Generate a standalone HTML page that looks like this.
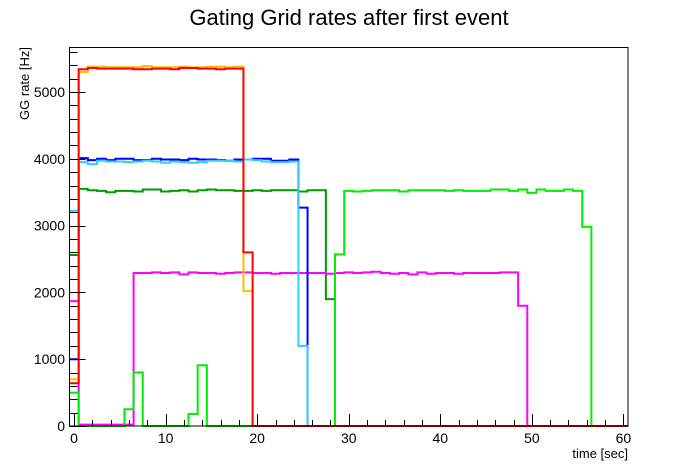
<!DOCTYPE html>
<html><head><meta charset="utf-8"><style>
html,body{margin:0;padding:0;background:#fff;}
svg{display:block;font-family:"Liberation Sans",sans-serif;}
</style></head><body>
<svg id="chart" width="698" height="474" viewBox="0 0 698 474">
<rect x="0" y="0" width="698" height="474" fill="#fff"/>
<text x="349" y="25" font-size="22" text-anchor="middle">Gating Grid rates after first event</text>
<g id="series"></g>
<rect x="69.5" y="47.5" width="558.5" height="378.5" fill="none" stroke="#000" stroke-width="1"/>
<g id="axes"></g>
<text x="628" y="458" font-size="13" text-anchor="end">time [sec]</text>
<text transform="translate(29,47) rotate(-90)" font-size="13" text-anchor="end">GG rate [Hz]</text>
</svg>
<script>
const xTicks = [0,10,20,30,40,50,60];
const yTicks = [0,1000,2000,3000,4000,5000];
const seriesNames = ["dark-green","magenta","lime","blue","cyan","orange","red"];
const seriesColors = ["#009900","#ff00ff","#00ee00","#0000ff","#33ccff","#ffbb00","#ff0000"];
const darkGreen = [2560,3550,3530,3520,3500,3520,3520,3510,3540,3540,3510,3520,3530,3510,3530,3540,3530,3530,3520,3520,3530,3520,3530,3530,3530,3510,3530,3530,1900];
const magenta = [1870,20,20,20,20,20,20,2290,2290,2300,2290,2300,2270,2300,2290,2290,2280,2290,2300,2300,2290,2290,2280,2290,2290,2290,2290,2290,2280,2290,2300,2290,2300,2310,2290,2280,2290,2270,2300,2280,2290,2290,2280,2290,2290,2290,2290,2300,2300,1800];
const lime = [500,0,0,0,0,0,250,800,0,0,0,0,0,180,910,0,0,0,0,0,0,0,0,0,0,0,0,0,0,2570,3520,3510,3520,3530,3530,3530,3510,3530,3530,3530,3530,3520,3530,3520,3520,3520,3540,3540,3520,3540,3490,3540,3520,3520,3540,3520,2980];
const orange = [700,5300,5380,5380,5370,5370,5370,5370,5390,5370,5370,5370,5380,5370,5370,5380,5380,5370,5380,2020];
const cyan = [3220,3950,3920,3970,3960,3960,3950,3960,3970,3960,3940,3960,3950,3940,3950,3970,3970,3970,3960,3990,3980,3960,3950,3950,3960,1200];
const blue = [1000,4010,3980,4000,3980,4000,4000,3980,3980,4000,3990,3990,3980,4000,3990,3990,3980,3970,3990,3990,4000,4000,3970,3970,3990,3270];
const red = [640,5340,5360,5350,5350,5350,5350,5340,5340,5350,5350,5340,5360,5360,5350,5350,5340,5350,5350,2600];
const seriesData = [darkGreen,magenta,lime,blue,cyan,orange,red];

const X0=-0.5, X1=60.5, PX0=69.5, PX1=628;
const PY0=426, PY1000=66.8;
function xs(v){return PX0+(v-X0)*(PX1-PX0)/(X1-X0);}
function ys(v){return PY0-v*PY1000/1000;}
const NS="http://www.w3.org/2000/svg";
const sg=document.getElementById('series');
const ag=document.getElementById('axes');

seriesData.forEach((arr,k)=>{
  let d="M"+xs(-0.5)+","+ys(arr[0]);
  for(let i=0;i<=60;i++){
    const v=i<arr.length?arr[i]:0;
    d+=" L"+xs(i-0.5)+","+ys(v)+" L"+xs(i+0.5)+","+ys(v);
  }
  const p=document.createElementNS(NS,'path');
  p.setAttribute('d',d);
  p.setAttribute('fill','none');
  p.setAttribute('stroke',seriesColors[k]);
  p.setAttribute('stroke-width','2');
  
  
  sg.appendChild(p);
});

function line(x1,y1,x2,y2,name){
  const l=document.createElementNS(NS,'line');
  l.setAttribute('x1',x1);l.setAttribute('y1',y1);l.setAttribute('x2',x2);l.setAttribute('y2',y2);
  l.setAttribute('stroke','#000');l.setAttribute('stroke-width','1');
  
  
  ag.appendChild(l);
}
function txt(x,y,s,anchor,name){
  const t=document.createElementNS(NS,'text');
  t.setAttribute('x',x);t.setAttribute('y',y);t.setAttribute('font-size','14');t.setAttribute('text-anchor',anchor);
  t.textContent=s;
  
  
  ag.appendChild(t);
}
for(let v=0;v<=60;v+=2){
  const x=Math.round(xs(v))+0.5;
  const major=v%10===0;
  line(x,426,x,426-(major?12:6),'x-tick');
}
xTicks.forEach(v=>txt(xs(v),443,String(v),'middle','x-tick-label'));
for(let v=0;v<=5600;v+=200){
  const y=Math.round(ys(v))+0.5;
  const major=v%1000===0;
  line(69.5,y,69.5+(major?16:8),y,'y-tick');
}
yTicks.forEach(v=>txt(65,ys(v)+5,String(v),'end','y-tick-label'));
</script>
</body></html>
